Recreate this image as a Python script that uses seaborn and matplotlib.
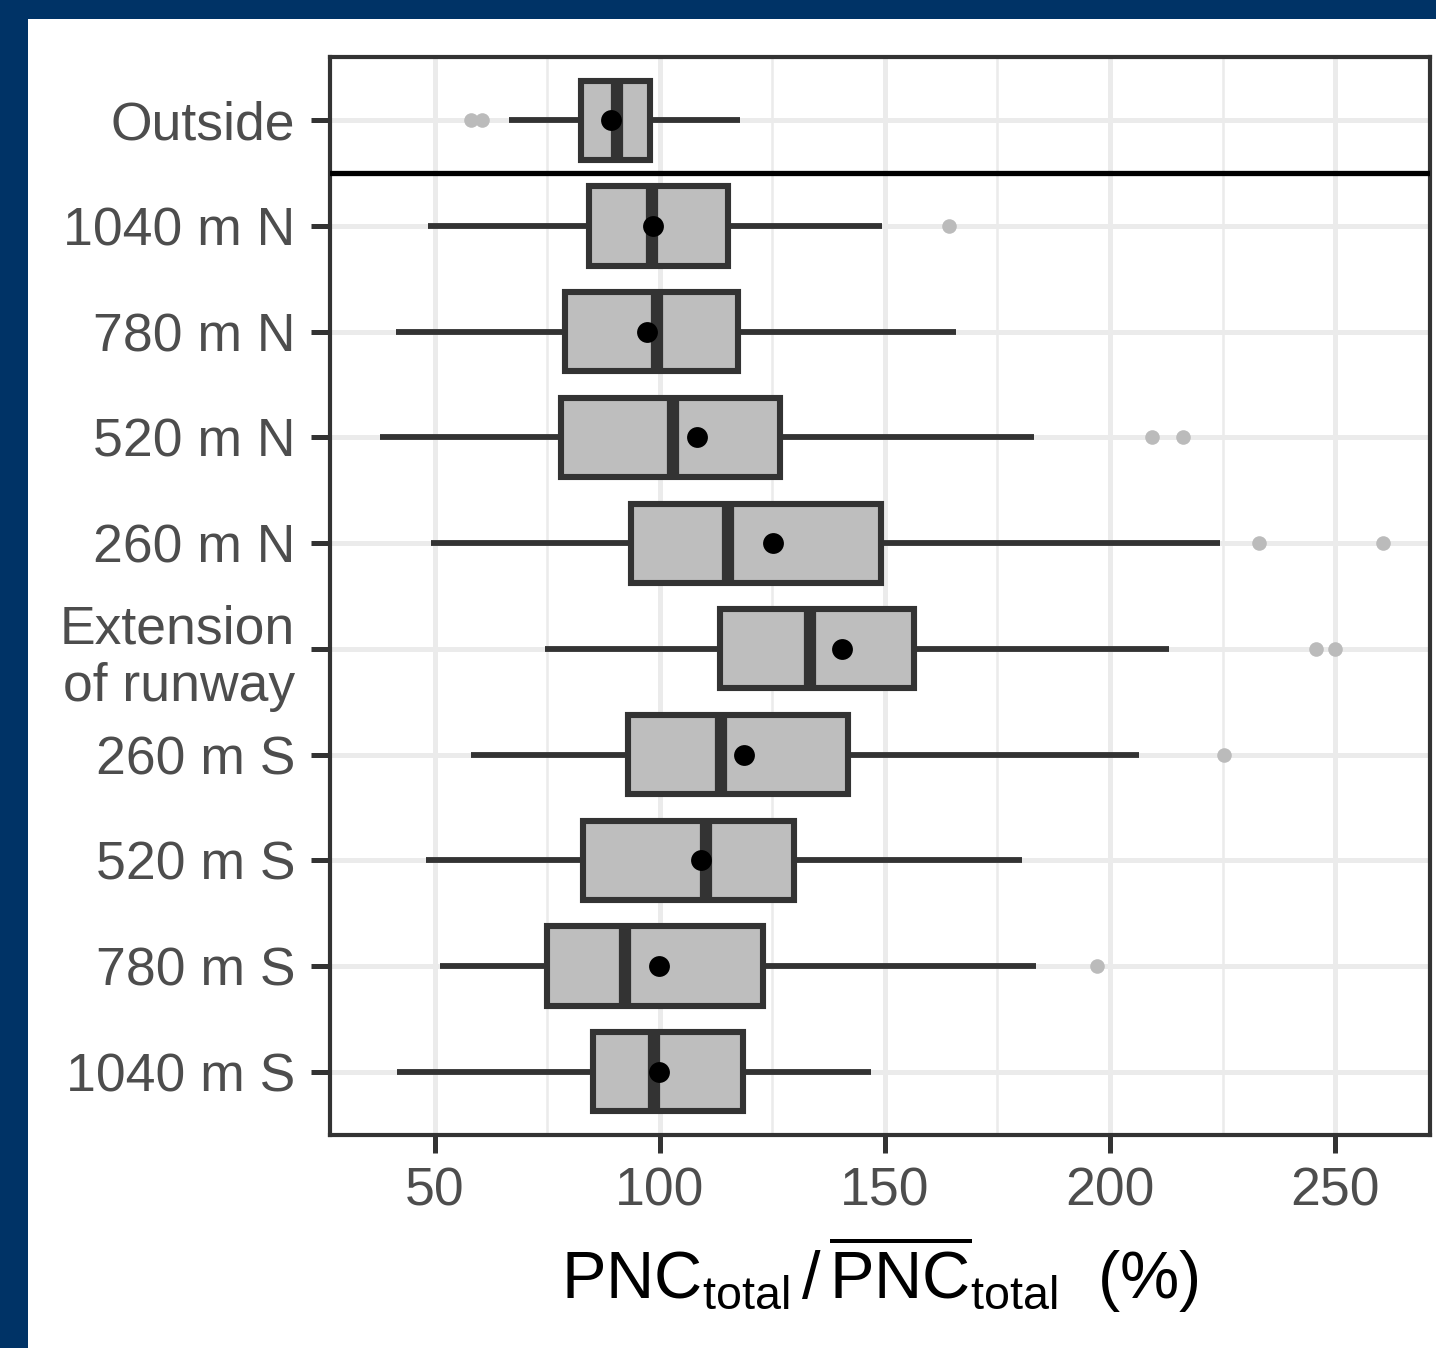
import numpy as np
import pandas as pd
import matplotlib
matplotlib.use("Agg")
import matplotlib.pyplot as plt
from matplotlib.patches import Rectangle
import seaborn as sns

# ---------------- data ----------------
sites = ['Outside', '1040 m N', '780 m N', '520 m N', '260 m N',
         'Extension\nof runway', '260 m S', '520 m S', '780 m S', '1040 m S']
whisker_low = [66.5, 48.4, 41.3, 37.8, 49.1, 74.4, 58.0, 48.0, 51.1, 41.6]
q1 = [82.5, 84.2, 78.9, 78.0, 93.6, 113.3, 92.9, 82.9, 74.9, 85.1]
median = [90.4, 98.2, 99.3, 102.9, 115.1, 133.3, 113.6, 110.2, 92.2, 98.7]
q3 = [97.9, 115.1, 117.3, 126.7, 149.1, 156.4, 141.8, 129.8, 122.9, 118.4]
whisker_high = [117.9, 149.3, 165.8, 183.1, 224.5, 213.0, 206.4, 180.4, 183.6, 146.9]
means = [89.1, 98.4, 97.1, 108.2, 125.1, 140.4, 118.7, 109.1, 99.8, 99.8]
outlier_site = ['Outside', 'Outside', '1040 m N', '520 m N', '520 m N',
                '260 m N', '260 m N', 'Extension\nof runway', 'Extension\nof runway',
                '260 m S', '780 m S']
outlier_vals = [58.1, 60.4, 164.2, 209.4, 216.3, 233.0, 260.6, 245.7, 250.0, 225.3, 197.1]
x_major = [50, 100, 150, 200, 250]
x_minor = [75, 125, 175, 225]

# five-number summaries as a long table (quartiles of 5 values are exact)
rows = []
for i, s in enumerate(sites):
    for v in (whisker_low[i], q1[i], median[i], q3[i], whisker_high[i]):
        rows.append({'site': s, 'value': v})
df = pd.DataFrame(rows)

# ---------------- style ----------------
sns.set_theme(style='white')
plt.rcParams['font.family'] = ['Liberation Sans', 'DejaVu Sans']
plt.rcParams['mathtext.fontset'] = 'custom'
plt.rcParams['mathtext.rm'] = 'Liberation Sans'
plt.rcParams['mathtext.it'] = 'Liberation Sans:italic'
plt.rcParams['mathtext.bf'] = 'Liberation Sans:bold'

W, H = 1436, 1348
fig = plt.figure(figsize=(W / 100, H / 100), dpi=100, facecolor='white')
ax = fig.add_axes([330 / W, 1 - 1135 / H, 1100 / W, 1078 / H])

dark = '#333333'
sns.boxplot(data=df, x='value', y='site', order=sites, orient='h', ax=ax,
            whis=np.inf, width=0.75, color='#BEBEBE', saturation=1,
            linecolor=dark, linewidth=4.4, fliersize=0, showcaps=False,
            medianprops={'linewidth': 8.8, 'color': dark, 'solid_capstyle': 'butt'},
            whiskerprops={'linewidth': 4.2, 'color': dark, 'solid_capstyle': 'butt'},
            boxprops={'linewidth': 4.4, 'edgecolor': dark})

sns.stripplot(x=outlier_vals, y=outlier_site, order=sites, orient='h', ax=ax,
              jitter=False, color='#BBBBBB', size=10.5, linewidth=0, zorder=4)
sns.stripplot(x=means, y=sites, order=sites, orient='h', ax=ax,
              jitter=False, color='black', size=15, linewidth=0, zorder=10)

ax.axhline(0.5, color='black', linewidth=3.8, zorder=11)

ax.set_xlim(26.7, 271.1)
ax.set_ylim(9.6, -0.6)
ax.set_xticks(x_major)
ax.set_xticks(x_minor, minor=True)
ax.set_axisbelow(True)
ax.grid(which='major', axis='both', color='#EBEBEB', linewidth=3.6)
ax.grid(which='minor', axis='x', color='#EBEBEB', linewidth=1.8)
ax.yaxis.grid(True, which='major', color='#EBEBEB', linewidth=3.6)

for sp in ax.spines.values():
    sp.set_visible(True)
    sp.set_color(dark)
    sp.set_linewidth(3)

ax.tick_params(axis='y', which='major', left=True, length=14, width=3.6, color=dark,
               pad=11, labelsize=38.5, labelcolor='#4D4D4D')
ax.tick_params(axis='x', which='major', bottom=True, length=13, width=3.6, color=dark,
               pad=10, labelsize=38.5, labelcolor='#4D4D4D')
ax.tick_params(which='minor', length=0)
for t in ax.get_yticklabels():
    t.set_linespacing(1.2)

ax.set_ylabel('')
ax.set_xlabel(r'$\mathrm{PNC}_{\mathrm{total}}\,/\,\overline{\mathrm{PNC}}_{\mathrm{total}}\ \ (\%)$',
              fontsize=48, color='black', labelpad=12)

# blue frame
frame = '#003366'
fig.add_artist(Rectangle((0, 1 - 19 / H), 1, 19 / H, transform=fig.transFigure,
                         facecolor=frame, edgecolor='none', zorder=20))
fig.add_artist(Rectangle((0, 0), 28 / W, 1, transform=fig.transFigure,
                         facecolor=frame, edgecolor='none', zorder=20))

fig.savefig('out.png', dpi=100, facecolor='white')
